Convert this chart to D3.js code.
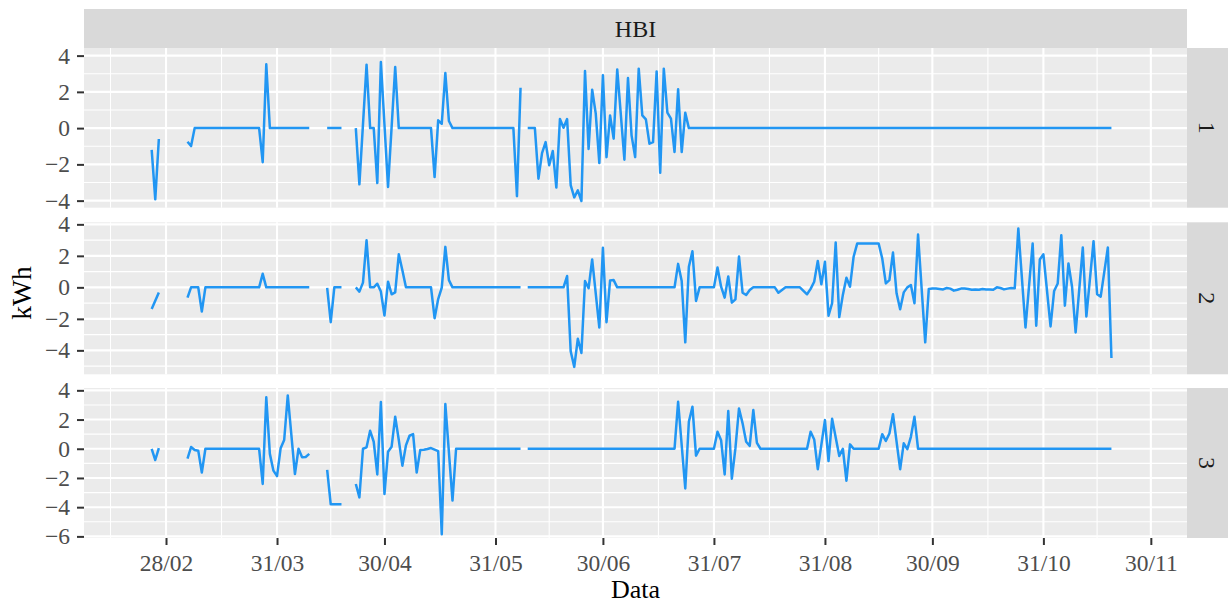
<!DOCTYPE html>
<html>
<head>
<meta charset="utf-8">
<script src="https://cdn.jsdelivr.net/npm/d3@7/dist/d3.min.js"></script>
<style>
  body { margin: 0; background: #fff; }
  text { font-family: "Liberation Serif", "Times New Roman", serif; }
</style>
</head>
<body>
<div id="chart"></div>
<script>
// DATA: [day of year 2023, kWh], null = missing day (breaks the line)
// =====================
var row1 = [[55,-1.2],[56,-3.93],[57,-0.6],[58,null],
  [65,-0.75],[66,-0.99],[67,0],[85,0],[86,-1.88],[87,3.52],[88,0],[99,0],[100,null],
  [104,0],[108,0],[109,null],
  [112,0],[113,-3.1],[115,3.5],[116,0],[117,0],[118,-3.03],[119,3.65],[121,-3.25],[123,3.37],[124,0],
  [133,0],[134,-2.7],[135,0.43],[136,0.24],[137,3.04],[138,0.39],[139,0],[156,0],[157,-3.75],[158,2.23],[159,null],
  [160,0],[162,0],[163,-2.79],[164,-1.38],[165,-0.77],[166,-2.05],[167,-1.26],[168,-3.28],[169,0.5],[170,0.02],
  [171,0.5],[172,-3.14],[173,-3.82],[174,-3.43],[175,-4.02],[176,3.15],[177,-1.15],[178,2.12],[179,0.8],[180,-1.93],
  [181,2.91],[182,-1.6],[183,0.7],[184,-0.58],[185,3.24],[187,-1.74],[188,2.76],[189,-0.4],[190,-1.6],[191,3.28],
  [192,0.7],[193,0.48],[194,-0.86],[195,-0.77],[196,3.13],[197,-2.46],[198,3.28],[199,0.85],[200,0.52],[201,-1.32],
  [202,2.14],[203,-1.32],[204,0.85],[205,0],[323,0]];

var row2 = [[55,-1.37],[57,-0.32],[58,null],
  [65,-0.65],[66,0],[68,0],[69,-1.54],[70,0],[85,0],[86,0.86],[87,0],[99,0],[100,null],
  [104,-0.04],[105,-2.21],[106,0],[108,0],[109,null],
  [112,0],[113,-0.27],[114,0.3],[115,2.99],[116,0],[117,0],[118,0.23],[119,-0.27],[120,-1.79],[121,0.36],
  [122,-0.44],[123,-0.32],[124,2.1],[125,1.09],[126,0],[133,0],[134,-1.96],[135,-0.74],[136,-0.02],[137,2.57],
  [138,0.46],[139,0],[158,0],[159,null],
  [160,0],[170,0],[171,0.72],[172,-4.06],[173,-5.05],[174,-3.26],[175,-4.17],[176,0.4],[177,-0.06],[178,1.77],
  [180,-2.55],[181,2.51],[182,-2.21],[183,0.44],[184,0.46],[185,0],[201,0],[202,1.49],[203,0.4],[204,-3.49],
  [205,1.31],[206,2.29],[207,-0.86],[208,0],[212,0],[213,1.26],[214,0.04],[215,-0.65],[216,0.69],[217,-0.97],
  [218,-0.76],[219,1.96],[220,-0.34],[221,-0.48],[222,-0.17],[223,0],[229,0],[230,-0.34],[232,0],[236,0],
  [238,-0.44],[239,-0.1],[240,0.36],[241,1.68],[242,0.19],[243,1.62],[244,-1.8],[245,-1.01],[246,2.84],[247,-1.89],
  [248,-0.48],[249,0.61],[250,0.04],[251,1.94],[252,2.78],[258,2.78],[259,1.83],[260,0.25],[261,0.46],[262,2.21],
  [263,-0.38],[264,-1.39],[265,-0.32],[266,0],[267,0.15],[268,-1.01],[269,3.35],[271,-3.49],[272,-0.1],
  [273,-0.08],[274,-0.08],[275,-0.1],[276,-0.13],[277,-0.04],[278,-0.08],[279,-0.21],[280,-0.15],[281,-0.08],
  [282,-0.08],[283,-0.1],[284,-0.15],[285,-0.13],[286,-0.15],[287,-0.1],[288,-0.13],[289,-0.13],[290,-0.15],
  [291,0],[292,-0.04],[293,-0.13],[294,-0.08],[295,-0.04],[296,-0.06],
  [297,3.73],[299,-2.55],[301,2.78],[302,-2.44],[303,1.77],[304,2.1],[306,-2.48],[307,-0.23],[308,0.25],[309,3.31],
  [310,-1.16],[311,1.52],[312,0.04],[313,-2.86],[315,2.53],[316,-1.85],[318,2.93],[319,-0.44],[320,-0.59],
  [322,2.53],[323,-4.48]];

var row3 = [[55,0],[56,-0.77],[57,0.05],[58,null],
  [65,-0.68],[66,0.12],[67,-0.08],[68,-0.13],[69,-1.63],[70,0],[85,0],[86,-2.41],[87,3.52],[88,-0.35],[89,-1.5],
  [90,-1.87],[91,0.03],[92,0.6],[93,3.65],[95,-1.73],[96,0],[97,-0.58],[98,-0.56],[99,-0.35],[100,null],
  [104,-1.45],[105,-3.8],[108,-3.8],[109,null],
  [112,-2.41],[113,-3.33],[114,0],[115,0.1],[116,1.23],[117,0.48],[118,-1.76],[119,3.2],[120,-3.1],[121,-0.2],
  [122,0.14],[123,2.19],[124,0.6],[125,-1.16],[126,0.23],[127,0.89],[128,1.0],[129,-1.63],[130,-0.08],[131,-0.07],
  [132,-0.02],[133,0.05],[135,-0.16],[136,-5.85],[137,3.06],[139,-3.55],[140,0],[158,0],[159,null],
  [160,0],[201,0],[202,3.22],[204,-2.72],[205,1.85],[206,2.88],[207,-0.47],[208,0],[212,0],[213,1.16],[214,0.59],
  [215,-1.76],[216,2.58],[217,-2.05],[218,0.02],[219,2.76],[220,1.74],[221,0.48],[222,0.2],[223,2.65],[224,0.41],
  [225,0],[238,0],[239,1.16],[240,0.64],[241,-1.4],[243,1.96],[244,-0.84],[245,2.05],[247,-0.49],[248,0],
  [249,-2.19],[250,0.3],[251,0],[258,0],[259,1.0],[260,0.53],[261,1.05],[262,2.37],[264,-1.4],[265,0.37],
  [266,-0.03],[267,0.82],[268,2.19],[269,0],[323,0]];

var monthEnds = ["2023-02-28","2023-03-31","2023-04-30","2023-05-31","2023-06-30",
                 "2023-07-31","2023-08-31","2023-09-30","2023-10-31","2023-11-30"];
var yTicks1 = [-4, -2, 0, 2, 4];
var yTicks2 = [-4, -2, 0, 2, 4];
var yTicks3 = [-6, -4, -2, 0, 2, 4];
var rowLabels = ["1", "2", "3"];
var facetTitle = "HBI";

// LAYOUT
//=====================
var svgWidth = 1228, svgHeight = 604;
var left = 84, right = 1187;
var stripTop = 9, stripBottom = 48;
var panelTops = [48, 222.3, 388];
var panelBottoms = [207.7, 374.3, 538];
var yDomains = [[-4.39, 4.42], [-5.52, 4.13], [-6.11, 4.16]];
var lineColor = "#2196F3";
var tickFont = 23.5, titleFont = 26;

function dayToDate(d) {
  return new Date(Date.UTC(2023, 0, 1) + (d - 1) * 864e5);
}
var parseDate = d3.utcParse("%Y-%m-%d");
var tickDates = monthEnds.map(parseDate);

var svg = d3.select("#chart")
  .append("svg")
  .attr("width", svgWidth)
  .attr("height", svgHeight);

var xScale = d3.scaleUtc()
  .domain([dayToDate(36.1), dayToDate(344.1)])
  .range([left, right]);

// minor x breaks: midpoints between month ends (plus one extrapolated each side)
var tv = tickDates.map(function(d) { return +d; });
var xMinor = [];
xMinor.push(tv[0] - (tv[1] - tv[0]) / 2);
for (var i = 0; i < tv.length - 1; i++) xMinor.push((tv[i] + tv[i + 1]) / 2);
xMinor.push(tv[tv.length - 1] + (tv[tv.length - 1] - tv[tv.length - 2]) / 2);
xMinor = xMinor.filter(function(t) {
  var x = xScale(new Date(t)); return x > left && x < right;
});

// top strip
svg.append("rect")
  .attr("x", left).attr("y", stripTop)
  .attr("width", right - left).attr("height", stripBottom - stripTop)
  .attr("fill", "#D9D9D9");
svg.append("text")
  .attr("x", (left + right) / 2).attr("y", (stripTop + stripBottom) / 2)
  .attr("dy", "0.35em")
  .attr("text-anchor", "middle")
  .attr("font-size", 24)
  .attr("fill", "#1A1A1A")
  .text(facetTitle);

var rows = [row1, row2, row3];
var yTickSets = [yTicks1, yTicks2, yTicks3];

rows.forEach(function(data, p) {
  var top = panelTops[p], bottom = panelBottoms[p];
  var yScale = d3.scaleLinear().domain(yDomains[p]).range([bottom, top]);
  var g = svg.append("g");

  g.append("rect")
    .attr("x", left).attr("y", top)
    .attr("width", right - left).attr("height", bottom - top)
    .attr("fill", "#EBEBEB");

  // minor grid
  var ticks = yTickSets[p];
  var yMinor = [];
  var step = ticks[1] - ticks[0];
  for (var v = ticks[0] - step / 2; v <= ticks[ticks.length - 1] + step / 2; v += step) {
    if (yScale(v) > top && yScale(v) < bottom) yMinor.push(v);
  }
  g.selectAll(".ymin").data(yMinor).enter().append("line")
    .attr("x1", left).attr("x2", right)
    .attr("y1", d => yScale(d)).attr("y2", d => yScale(d))
    .attr("stroke", "#fff").attr("stroke-width", 1.1);
  g.selectAll(".xmin").data(xMinor).enter().append("line")
    .attr("x1", d => xScale(new Date(d))).attr("x2", d => xScale(new Date(d)))
    .attr("y1", top).attr("y2", bottom)
    .attr("stroke", "#fff").attr("stroke-width", 1.1);

  // major grid
  g.selectAll(".ymaj").data(ticks).enter().append("line")
    .attr("x1", left).attr("x2", right)
    .attr("y1", d => yScale(d)).attr("y2", d => yScale(d))
    .attr("stroke", "#fff").attr("stroke-width", 2.1);
  g.selectAll(".xmaj").data(tickDates).enter().append("line")
    .attr("x1", d => xScale(d)).attr("x2", d => xScale(d))
    .attr("y1", top).attr("y2", bottom)
    .attr("stroke", "#fff").attr("stroke-width", 2.1);

  // series line
  var line = d3.line()
    .defined(d => d[1] !== null)
    .x(d => xScale(dayToDate(d[0])))
    .y(d => yScale(d[1]));
  g.append("path")
    .datum(data)
    .attr("d", line)
    .attr("fill", "none")
    .attr("stroke", lineColor)
    .attr("stroke-width", 2.5)
    .attr("stroke-linejoin", "round");

  // y axis
  var yAxis = d3.axisLeft(yScale).tickValues(ticks).tickSize(7).tickPadding(7)
    .tickFormat(d => d < 0 ? "\u2212" + Math.abs(d) : d);
  var ya = g.append("g").attr("transform", `translate(${left},0)`).call(yAxis);
  ya.select(".domain").remove();
  ya.selectAll("line").attr("stroke", "#333").attr("stroke-width", 2);
  ya.selectAll("text").attr("font-size", tickFont).attr("fill", "#4D4D4D")
    .attr("font-family", "Liberation Serif, serif");

  // right strip
  svg.append("rect")
    .attr("x", right).attr("y", top)
    .attr("width", svgWidth - right).attr("height", bottom - top)
    .attr("fill", "#D9D9D9");
  var cx = (right + svgWidth) / 2, cy = (top + bottom) / 2;
  svg.append("text")
    .attr("transform", `translate(${cx},${cy}) rotate(90)`)
    .attr("dy", "0.35em")
    .attr("text-anchor", "middle")
    .attr("font-size", 24)
    .attr("fill", "#1A1A1A")
    .text(rowLabels[p]);
});

// x axis under the last panel
var xAxis = d3.axisBottom(xScale).tickValues(tickDates).tickSize(7)
  .tickFormat(d3.utcFormat("%d/%m"));
var xa = svg.append("g")
  .attr("transform", `translate(0,${panelBottoms[2]})`)
  .call(xAxis);
xa.select(".domain").remove();
xa.selectAll("line").attr("stroke", "#333").attr("stroke-width", 2);
xa.selectAll("text").attr("font-size", tickFont).attr("fill", "#4D4D4D")
  .attr("font-family", "Liberation Serif, serif")
  .attr("y", 32.5).attr("dy", null);

// axis titles
svg.append("text")
  .attr("x", (left + right) / 2).attr("y", 598)
  .attr("text-anchor", "middle")
  .attr("font-size", titleFont)
  .attr("fill", "#000")
  .text("Data");
svg.append("text")
  .attr("transform", `translate(31,${(panelTops[0] + panelBottoms[2]) / 2}) rotate(-90)`)
  .attr("text-anchor", "middle")
  .attr("font-size", 27.5)
  .attr("fill", "#000")
  .text("kWh");
</script>
</body>
</html>
